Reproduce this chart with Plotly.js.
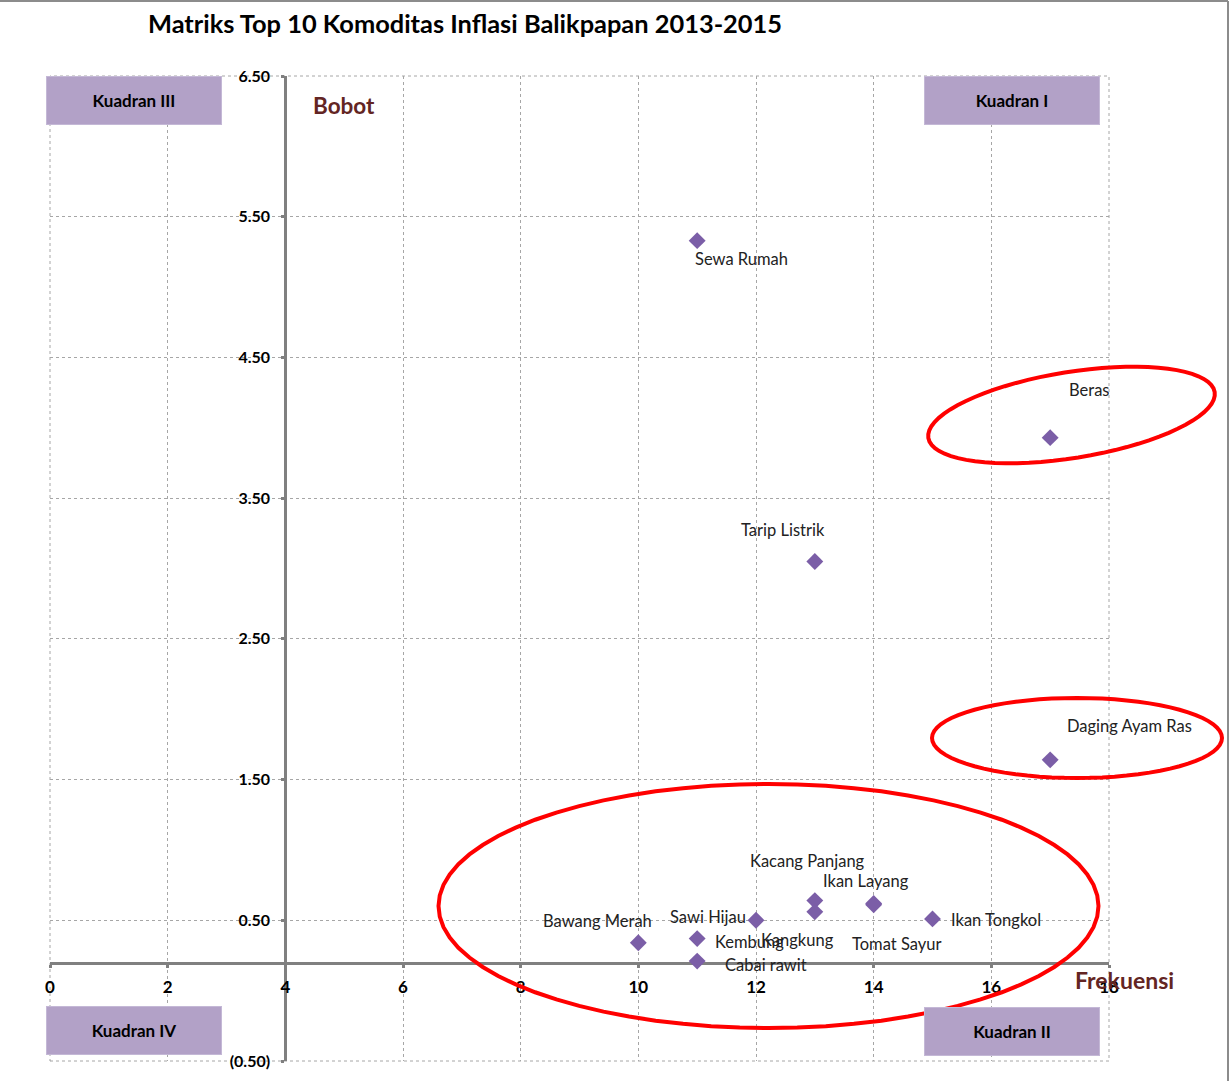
<!DOCTYPE html>
<html>
<head>
<meta charset="utf-8">
<script src="https://cdn.plot.ly/plotly-3.0.1.min.js"></script>
<style>html,body{margin:0;padding:0;background:#fff;}#chart{width:1231px;height:1081px;}</style>
</head>
<body>
<div id="chart"></div>
<script>
// ---- data ----
const komoditas = ["Sewa Rumah","Beras","Tarip Listrik","Daging Ayam Ras","Kacang Panjang","Ikan Layang","Ikan Tongkol","Tomat Sayur","Bawang Merah","Sawi Hijau","Kembung","Kangkung","Cabai rawit"];
const frekuensi = [11, 17, 13, 17, 13, 14, 15, 14, 10, 12, 11, 13, 11];
const bobot     = [5.33, 3.93, 3.05, 1.64, 0.64, 0.62, 0.51, 0.61, 0.34, 0.50, 0.37, 0.56, 0.21];
const xTickVals = [0, 2, 4, 6, 8, 10, 12, 14, 16, 18];
const xTickText = ["0","2","4","6","8","10","12","14","16","18"];
const yTickVals = [-0.5, 0.5, 1.5, 2.5, 3.5, 4.5, 5.5, 6.5];
const yTickText = ["(0.50)","0.50","1.50","2.50","3.50","4.50","5.50","6.50"];
const kuadranNames = ["Kuadran III","Kuadran I","Kuadran IV","Kuadran II"];

// ---- label offsets (pixels, dx right, dy down) ----
const labelOffsets = [[44,18],[39,-48],[-32,-31],[79,-34],[-7,-40],[-8,-22],[63,1],[23,39],[-41,-22],[-48,-3],[52,3],[-17,28],[69,4]];

// ---- layout geometry ----
const W = 1231, H = 1081;
const M = {l: 50, r: 122, t: 76, b: 20};
const PW = W - M.l - M.r, PH = H - M.t - M.b;
const px = x => (x - M.l) / PW;
const py = y => 1 - (y - M.t) / PH;
const FONT = "Lato, 'Open Sans', sans-serif";

function ellipsePath(cx, cy, a, b, deg) {
  const t = deg * Math.PI / 180;
  let d = "";
  for (let i = 0; i <= 72; i++) {
    const u = i / 72 * 2 * Math.PI;
    const ex = a * Math.cos(u), ey = b * Math.sin(u);
    const X = cx + ex * Math.cos(t) - ey * Math.sin(t);
    const Y = cy + ex * Math.sin(t) + ey * Math.cos(t);
    d += (i === 0 ? "M" : "L") + px(X).toFixed(5) + "," + py(Y).toFixed(5);
  }
  return d + "Z";
}

const trace = {
  type: "scatter", mode: "markers",
  x: frekuensi, y: bobot, text: komoditas,
  marker: {symbol: "diamond", size: 13, color: "#7b5ea7", line: {width: 0}},
  cliponaxis: false, hoverinfo: "text+x+y"
};

const annotations = komoditas.map((k, i) => ({
  x: frekuensi[i], y: bobot[i], xref: "x", yref: "y",
  text: k, showarrow: false,
  xshift: labelOffsets[i][0], yshift: -labelOffsets[i][1],
  font: {family: FONT, size: 16.5, color: "#222"}
}));

const boxes = [[46, 76], [924, 76], [46, 1006], [924, 1007]];
boxes.forEach((b, i) => {
  annotations.push({
    xref: "paper", yref: "paper", x: px(b[0]), y: py(b[1]), xanchor: "left", yanchor: "top",
    text: "<b>" + kuadranNames[i] + "</b>", showarrow: false,
    width: 172, height: 45, bgcolor: "#b2a1c7", bordercolor: "#c4b8d6", borderwidth: 1,
    font: {family: FONT, size: 17, color: "#000"}, align: "center", valign: "middle"
  });
});

annotations.push({xref: "paper", yref: "paper", x: px(311), y: py(105), xanchor: "left", yanchor: "middle",
  text: "<b>Bobot</b>", showarrow: false, font: {family: FONT, size: 22.5, color: "#632523"}});
annotations.push({xref: "paper", yref: "paper", x: px(1073), y: py(980), xanchor: "left", yanchor: "middle",
  text: "<b>Frekuensi</b>", showarrow: false, font: {family: FONT, size: 23, color: "#632523"}});

const shapes = [
  {type: "rect", xref: "paper", yref: "paper", x0: 0, x1: 1, y0: 0, y1: 1, layer: "below",
    line: {color: "#a6a6a6", width: 1, dash: "3px,3px"}},
  {type: "path", xref: "paper", yref: "paper", path: ellipsePath(1071.5, 415, 145, 43, -9.1), line: {color: "#ff0000", width: 4}},
  {type: "path", xref: "paper", yref: "paper", path: ellipsePath(1077, 738, 145, 40, 0), line: {color: "#ff0000", width: 4}},
  {type: "path", xref: "paper", yref: "paper", path: ellipsePath(768.5, 906, 330, 122, 0), line: {color: "#ff0000", width: 4}},
  {type: "line", xref: "paper", yref: "paper", x0: px(0), x1: px(1228), y0: py(1), y1: py(1), line: {color: "#8c8c8c", width: 2}},
  {type: "line", xref: "paper", yref: "paper", x0: px(1228), x1: px(1228), y0: py(1), y1: py(1081), line: {color: "#8c8c8c", width: 2}}
];

const axisCommon = {
  showgrid: true, gridcolor: "#a6a6a6", griddash: "3px,3px", gridwidth: 1,
  zeroline: false, showline: true, linecolor: "#808080", linewidth: 3,
  ticks: "outside", ticklen: 3, tickwidth: 3, tickcolor: "#808080",
  tickmode: "array", layer: "below traces"
};

const layout = {
  width: W, height: H, margin: M,
  paper_bgcolor: "#fff", plot_bgcolor: "#fff", showlegend: false,
  title: {text: "<b>Matriks Top 10 Komoditas Inflasi Balikpapan 2013-2015</b>",
    xref: "paper", x: px(148), xanchor: "left", yref: "container", y: 1 - 24 / H, yanchor: "middle",
    font: {family: FONT, size: 25.4, color: "#000"}},
  xaxis: Object.assign({}, axisCommon, {range: [0, 18], tickvals: xTickVals, ticktext: xTickText,
    anchor: "free", position: (0.2 + 0.5) / 7, ticklabelstandoff: 5,
    tickfont: {family: FONT, size: 17, color: "#000", weight: "bold"}}),
  yaxis: Object.assign({}, axisCommon, {range: [-0.5, 6.5], tickvals: yTickVals, ticktext: yTickText,
    anchor: "free", position: 4 / 18, ticklabelstandoff: 8,
    tickfont: {family: FONT, size: 16, color: "#000", weight: "bold"}}),
  annotations: annotations, shapes: shapes
};

Plotly.newPlot("chart", [trace], layout, {displayModeBar: false, staticPlot: true});
</script>
</body>
</html>
